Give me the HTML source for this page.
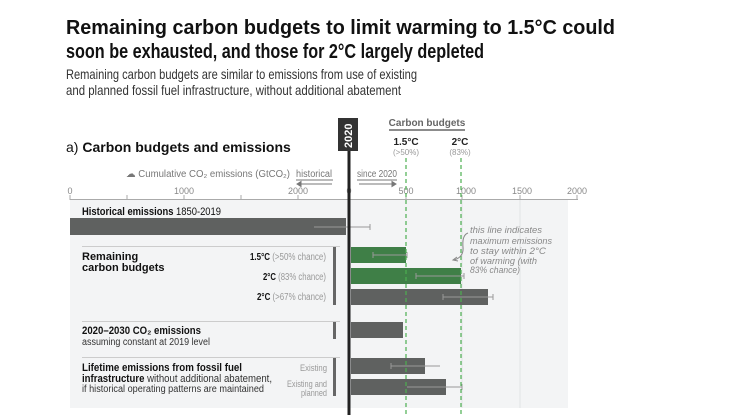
<!DOCTYPE html>
<html><head><meta charset="utf-8"><style>
html,body{margin:0;padding:0;background:#fff;}
svg{display:block;font-family:"Liberation Sans",sans-serif;}
</style></head><body>
<svg width="730" height="415" viewBox="0 0 730 415" xmlns="http://www.w3.org/2000/svg">
<rect width="730" height="415" fill="#fff"/>
<text x="66" y="34" font-size="20" font-weight="bold" fill="#111" textLength="549" lengthAdjust="spacingAndGlyphs">Remaining carbon budgets to limit warming to 1.5°C could</text>
<text x="66" y="58" font-size="20" font-weight="bold" fill="#111" textLength="418" lengthAdjust="spacingAndGlyphs">soon be exhausted, and those for 2°C largely depleted</text>
<text x="66" y="79" font-size="14" fill="#333" textLength="351" lengthAdjust="spacingAndGlyphs">Remaining carbon budgets are similar to emissions from use of existing</text>
<text x="66" y="95" font-size="14" fill="#333" textLength="335" lengthAdjust="spacingAndGlyphs">and planned fossil fuel infrastructure, without additional abatement</text>

<rect x="70" y="200" width="498" height="208" fill="#f3f4f5"/>
<g stroke="#e2e3e5" stroke-width="1">
<line x1="520" y1="200" x2="520" y2="408"/><line x1="462" y1="200" x2="462" y2="408"/>
</g>
<line x1="70" y1="199.5" x2="578" y2="199.5" stroke="#aaa"/>
<g stroke="#aaa"><line x1="70" y1="195" x2="70" y2="200"/><line x1="127" y1="195" x2="127" y2="200"/><line x1="184" y1="195" x2="184" y2="200"/><line x1="241" y1="195" x2="241" y2="200"/><line x1="298" y1="195" x2="298" y2="200"/>
<line x1="406" y1="195" x2="406" y2="200"/><line x1="462" y1="195" x2="462" y2="200"/><line x1="520" y1="195" x2="520" y2="200"/><line x1="577" y1="195" x2="577" y2="200"/></g>
<g font-size="9" fill="#888" text-anchor="middle">
<text x="70" y="194">0</text><text x="184" y="194">1000</text><text x="298" y="194">2000</text><text x="349" y="194">0</text><text x="406" y="194">500</text><text x="466" y="194">1000</text><text x="522" y="194">1500</text><text x="577" y="194">2000</text></g>

<text x="66" y="152" font-size="14" fill="#111">a) <tspan font-weight="bold">Carbon budgets and emissions</tspan></text>
<text x="126" y="177" font-size="10" fill="#777" textLength="164" lengthAdjust="spacingAndGlyphs">☁ Cumulative CO₂ emissions (GtCO₂)</text>
<text x="296" y="177" font-size="10" fill="#777" textLength="36" lengthAdjust="spacingAndGlyphs">historical</text>
<line x1="296" y1="180" x2="333" y2="180" stroke="#777"/>
<text x="357" y="177" font-size="10" fill="#777" textLength="40" lengthAdjust="spacingAndGlyphs">since 2020</text>
<line x1="357" y1="180" x2="397" y2="180" stroke="#777"/>
<path d="M297 184 H332 M297 184 l4 -2.5 v5z" stroke="#777" fill="#777"/>
<path d="M359 184 H392 M396 184 l-4 -2.5 v5z" stroke="#777" fill="#777"/>

<text x="427" y="126" font-size="10" font-weight="bold" fill="#666" text-anchor="middle">Carbon budgets</text>
<line x1="389" y1="130" x2="465" y2="130" stroke="#666" stroke-width="1.5"/>
<text x="406" y="145" font-size="10" font-weight="bold" fill="#222" text-anchor="middle">1.5°C</text>
<text x="406" y="155" font-size="8" fill="#999" text-anchor="middle">(&gt;50%)</text>
<text x="460" y="145" font-size="10" font-weight="bold" fill="#222" text-anchor="middle">2°C</text>
<text x="460" y="155" font-size="8" fill="#999" text-anchor="middle">(83%)</text>

<rect x="70" y="218" width="276" height="17" fill="#5f6160"/>
<rect x="351" y="247" width="55" height="16" fill="#3f7f47"/>
<rect x="351" y="268" width="110" height="16" fill="#3f7f47"/>
<rect x="351" y="289" width="137" height="16" fill="#5f6160"/>
<rect x="351" y="322" width="52" height="16" fill="#5f6160"/>
<rect x="351" y="358" width="74" height="16" fill="#5f6160"/>
<rect x="351" y="379" width="95" height="16" fill="#5f6160"/>
<g stroke="#999" stroke-width="1">
<path d="M314 227 H370 M370 224 v6"/>
<path d="M373 255 H407 M373 252v6 M407 252v6"/>
<path d="M416 276 H464 M416 273v6 M464 273v6"/>
<path d="M443 297 H493 M443 294v6 M493 294v6"/>
<path d="M391 366 H440 M391 363v6"/>
<path d="M407 387 H462 M462 384v6"/>
</g>

<line x1="349" y1="150" x2="349" y2="415" stroke="#222" stroke-width="3"/>
<rect x="338" y="118" width="20" height="33" fill="#333"/>
<text x="0" y="0" font-size="11" font-weight="bold" fill="#fff" transform="translate(352,148) rotate(-90)">2020</text>

<g stroke="#4caf50" stroke-width="1.2" stroke-dasharray="4,3">
<line x1="406" y1="158" x2="406" y2="415"/><line x1="461" y1="158" x2="461" y2="415"/></g>

<text x="82" y="215" font-size="11" fill="#111" textLength="139" lengthAdjust="spacingAndGlyphs"><tspan font-weight="bold">Historical emissions</tspan> 1850-2019</text>
<g stroke="#ccc"><line x1="82" y1="246.5" x2="340" y2="246.5"/><line x1="82" y1="321.5" x2="340" y2="321.5"/><line x1="82" y1="357.5" x2="340" y2="357.5"/></g>
<g fill="#666"><rect x="333" y="247" width="3" height="58"/><rect x="333" y="322" width="3" height="17"/><rect x="333" y="358" width="3" height="38"/></g>
<text x="82" y="260" font-size="11" font-weight="bold" fill="#111">Remaining</text>
<text x="82" y="271" font-size="11" font-weight="bold" fill="#111">carbon budgets</text>
<g text-anchor="end" font-size="10">
<text x="326" y="260" fill="#999" textLength="76" lengthAdjust="spacingAndGlyphs"><tspan font-weight="bold" fill="#111">1.5°C</tspan> (&gt;50% chance)</text>
<text x="326" y="280" fill="#999" textLength="63" lengthAdjust="spacingAndGlyphs"><tspan font-weight="bold" fill="#111">2°C</tspan> (83% chance)</text>
<text x="326" y="300" fill="#999" textLength="69" lengthAdjust="spacingAndGlyphs"><tspan font-weight="bold" fill="#111">2°C</tspan> (&gt;67% chance)</text>
<text x="327" y="371" fill="#999" font-size="9" textLength="27" lengthAdjust="spacingAndGlyphs">Existing</text>
<text x="327" y="387" fill="#999" font-size="9" textLength="40" lengthAdjust="spacingAndGlyphs">Existing and</text>
<text x="327" y="396" fill="#999" font-size="9" textLength="26" lengthAdjust="spacingAndGlyphs">planned</text>
</g>
<text x="82" y="334" font-size="11" font-weight="bold" fill="#111" textLength="119" lengthAdjust="spacingAndGlyphs">2020–2030 CO₂ emissions</text>
<text x="82" y="345" font-size="10" fill="#333" textLength="128" lengthAdjust="spacingAndGlyphs">assuming constant at 2019 level</text>
<text x="82" y="371" font-size="11" font-weight="bold" fill="#111" textLength="160" lengthAdjust="spacingAndGlyphs">Lifetime emissions from fossil fuel</text>
<text x="82" y="382" font-size="11" fill="#333" textLength="190" lengthAdjust="spacingAndGlyphs"><tspan font-weight="bold" fill="#111">infrastructure</tspan> without additional abatement,</text>
<text x="82" y="392" font-size="10" fill="#333" textLength="182" lengthAdjust="spacingAndGlyphs">if historical operating patterns are maintained</text>

<g font-size="9" font-style="italic" fill="#888">
<text x="470" y="233" textLength="72" lengthAdjust="spacingAndGlyphs">this line indicates</text>
<text x="470" y="244" textLength="82" lengthAdjust="spacingAndGlyphs">maximum emissions</text>
<text x="470" y="254" textLength="76" lengthAdjust="spacingAndGlyphs">to stay within 2°C</text>
<text x="470" y="264" textLength="67" lengthAdjust="spacingAndGlyphs">of warming (with</text>
<text x="470" y="273" textLength="50" lengthAdjust="spacingAndGlyphs">83% chance)</text></g>
<path d="M468 233 q-6 2 -5 14 q1 10 -9 13" stroke="#888" fill="none"/>
<path d="M457 257 l-4 3 l5 1" stroke="#888" fill="none"/>
</svg>
</body></html>
